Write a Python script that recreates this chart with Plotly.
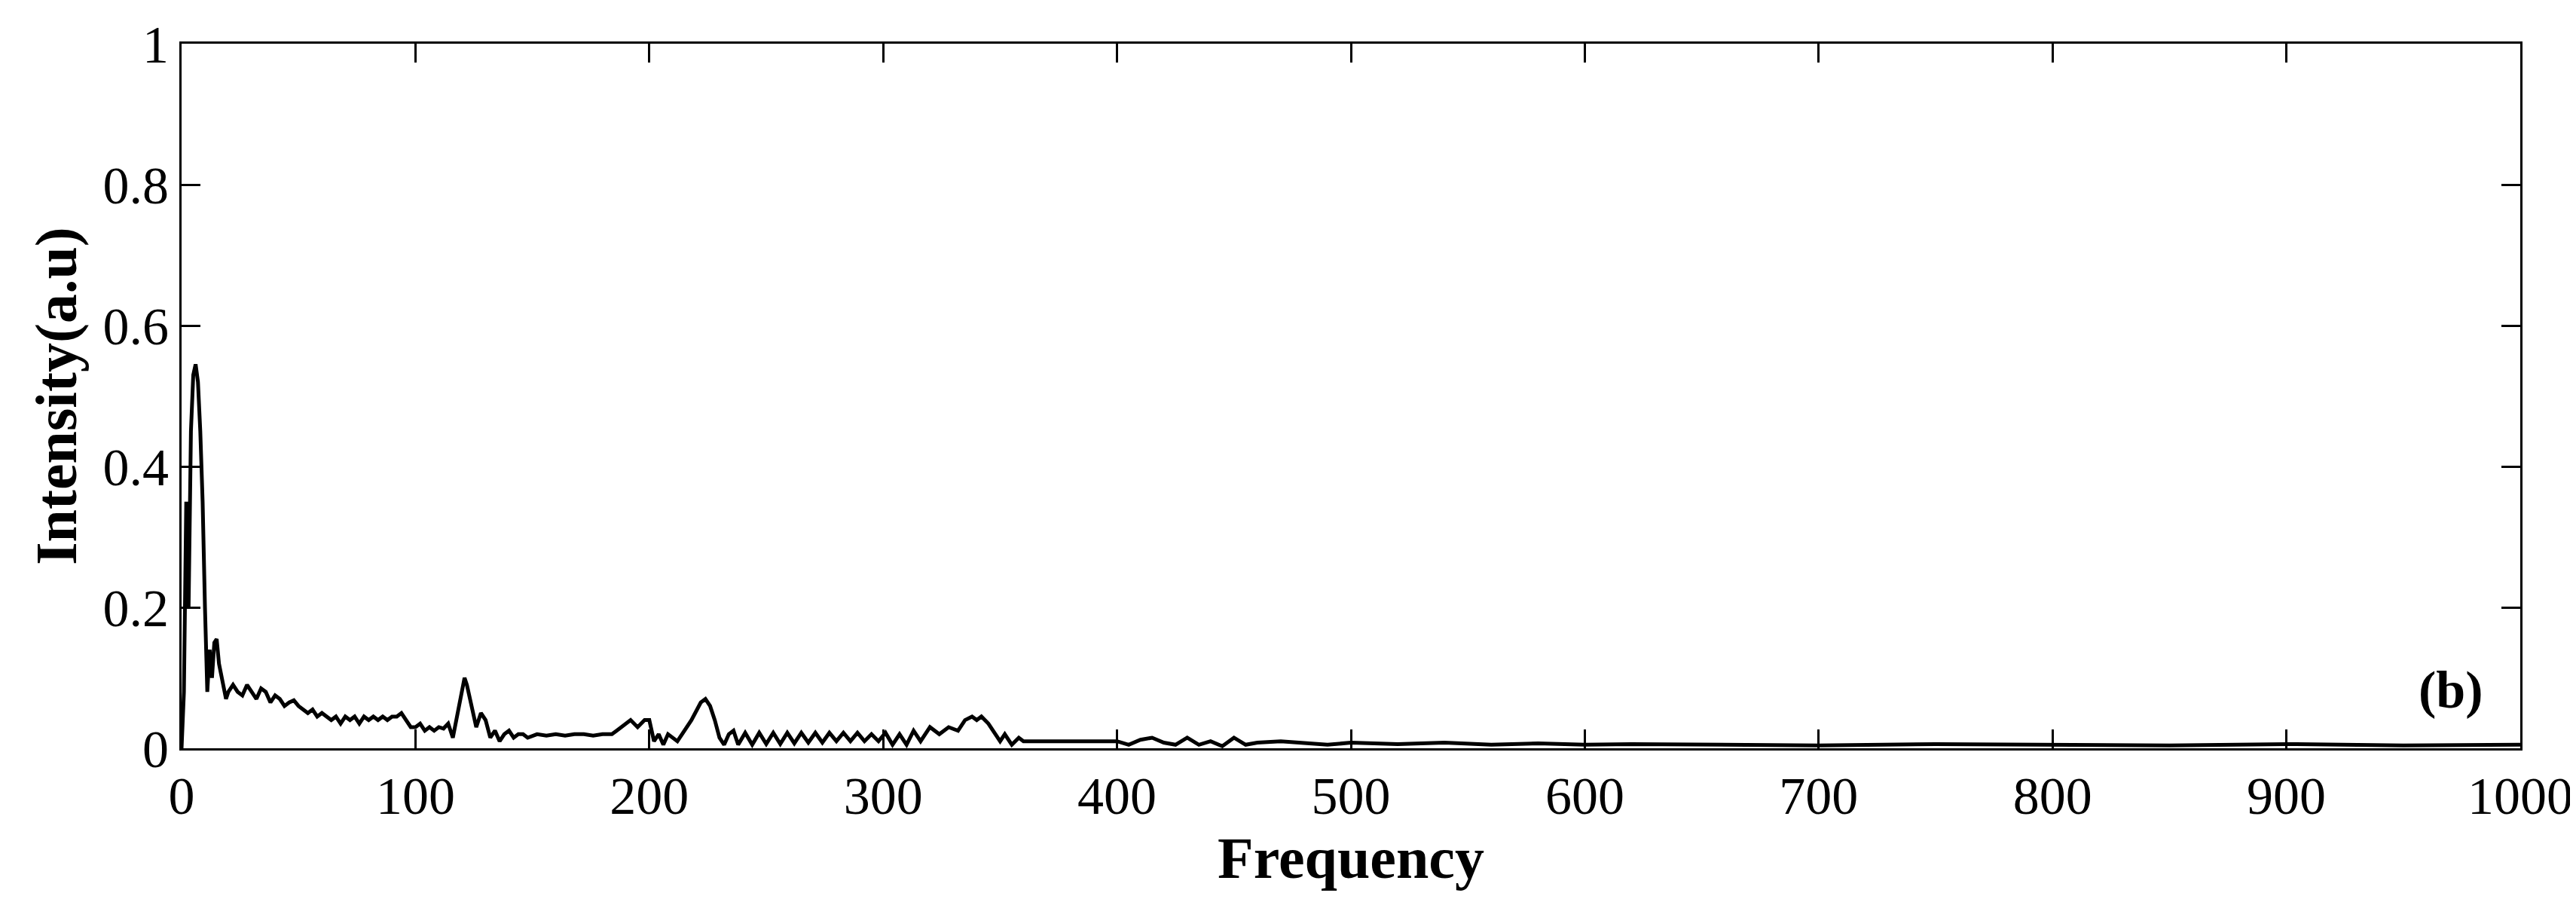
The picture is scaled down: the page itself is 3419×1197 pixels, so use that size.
import plotly.graph_objects as go

# Spectrum
freq = [0, 1, 2, 3, 4, 5, 6, 7, 8, 9, 10, 11, 12, 13, 14, 15, 16, 18, 19, 20,
        22, 24, 26, 28, 30, 32, 34, 36, 38, 40, 42, 44, 46, 48, 50, 52, 54, 56, 58, 60,
        62, 64, 66, 68, 70, 72, 74, 76, 78, 80, 82, 84, 86, 88, 90, 92, 94, 96, 98, 100,
        102, 104, 106, 108, 110, 112, 114, 116, 118, 120, 121, 122, 124, 126, 128, 130, 132, 134, 136, 138,
        140, 142, 144, 146, 148, 152, 156, 160, 164, 168, 172, 176, 180, 184, 186, 190, 192, 195, 198, 200,
        202, 204, 206, 208, 210, 212, 214, 218, 222, 224, 226, 228, 230, 232, 234, 236, 238, 241, 244, 247,
        250, 253, 256, 259, 262, 265, 268, 271, 274, 277, 280, 283, 286, 289, 292, 295, 298, 301, 304, 307,
        310, 313, 316, 320, 324, 328, 332, 335, 338, 340, 342, 345, 348, 350, 352, 355, 358, 360, 370, 380,
        390, 400, 405, 410, 415, 420, 425, 430, 435, 440, 445, 450, 455, 460, 470, 480, 490, 500, 520, 540,
        560, 580, 600, 620, 650, 680, 700, 750, 800, 850, 900, 950, 1000]
intensity = [0.0, 0.08, 0.35, 0.2, 0.45, 0.53, 0.545, 0.52, 0.45, 0.35, 0.2, 0.08, 0.14, 0.1, 0.15, 0.155, 0.12, 0.09, 0.07, 0.08,
             0.09, 0.08, 0.075, 0.09, 0.08, 0.07, 0.085, 0.08, 0.065, 0.075, 0.07, 0.06, 0.065, 0.068, 0.06, 0.055, 0.05, 0.055, 0.045, 0.05,
             0.045, 0.04, 0.045, 0.035, 0.045, 0.04, 0.045, 0.035, 0.045, 0.04, 0.045, 0.04, 0.045, 0.04, 0.045, 0.045, 0.05, 0.04, 0.03, 0.03,
             0.035, 0.025, 0.03, 0.025, 0.03, 0.028, 0.035, 0.015, 0.05, 0.085, 0.1, 0.09, 0.06, 0.03, 0.05, 0.04, 0.015, 0.025, 0.01, 0.02,
             0.025, 0.015, 0.02, 0.02, 0.015, 0.02, 0.018, 0.02, 0.018, 0.02, 0.02, 0.018, 0.02, 0.02, 0.025, 0.035, 0.04, 0.03, 0.04, 0.04,
             0.01, 0.02, 0.005, 0.02, 0.015, 0.01, 0.02, 0.04, 0.065, 0.07, 0.06, 0.04, 0.015, 0.005, 0.02, 0.025, 0.005, 0.022, 0.005, 0.022,
             0.006, 0.022, 0.006, 0.022, 0.007, 0.022, 0.008, 0.022, 0.008, 0.022, 0.01, 0.022, 0.01, 0.022, 0.01, 0.02, 0.01, 0.022, 0.005, 0.02,
             0.005, 0.025, 0.01, 0.03, 0.02, 0.03, 0.025, 0.04, 0.045, 0.04, 0.045, 0.035, 0.02, 0.01, 0.02, 0.005, 0.015, 0.01, 0.01, 0.01,
             0.01, 0.01, 0.005, 0.012, 0.015, 0.008, 0.005, 0.015, 0.005, 0.01, 0.003, 0.015, 0.005, 0.008, 0.01, 0.008, 0.005, 0.008, 0.006, 0.008,
             0.005, 0.007, 0.005, 0.006, 0.005, 0.005, 0.004, 0.006, 0.005, 0.004, 0.006, 0.004, 0.005]

x_ticks = [0, 100, 200, 300, 400, 500, 600, 700, 800, 900, 1000]
y_ticks = [0, 0.2, 0.4, 0.6, 0.8, 1]
y_labels = ["0", "0.2", "0.4", "0.6", "0.8", "1"]

fig = go.Figure()
fig.add_trace(go.Scatter(x=freq, y=intensity, mode="lines",
                         line=dict(color="black", width=5), showlegend=False))

axis_common = dict(showline=True, linecolor="black", linewidth=3, mirror="ticks",
                   ticks="inside", ticklen=25, tickwidth=3, tickcolor="black",
                   showgrid=False, zeroline=False,
                   tickfont=dict(family="Liberation Serif", size=70, color="black"))

fig.update_xaxes(range=[0, 1000], tickvals=x_ticks,
                 title=dict(text="<b>Frequency</b>", font=dict(family="Liberation Serif", size=78, color="black"), standoff=0),
                 **axis_common)
fig.update_yaxes(range=[0, 1], tickvals=y_ticks, ticktext=y_labels,
                 title=dict(text="<b>Intensity(a.u)</b>", font=dict(family="Liberation Serif", size=78, color="black"), standoff=10),
                 **axis_common)

fig.add_annotation(x=0.985, y=0.04, xref="paper", yref="paper", xanchor="right", yanchor="bottom",
                   text="<b>(b)</b>", showarrow=False,
                   font=dict(family="Liberation Serif", size=70, color="black"))

fig.update_layout(width=3419, height=1197, plot_bgcolor="white", paper_bgcolor="white",
                  margin=dict(l=233, r=80, t=45, b=212))

fig.write_html("out.html")
